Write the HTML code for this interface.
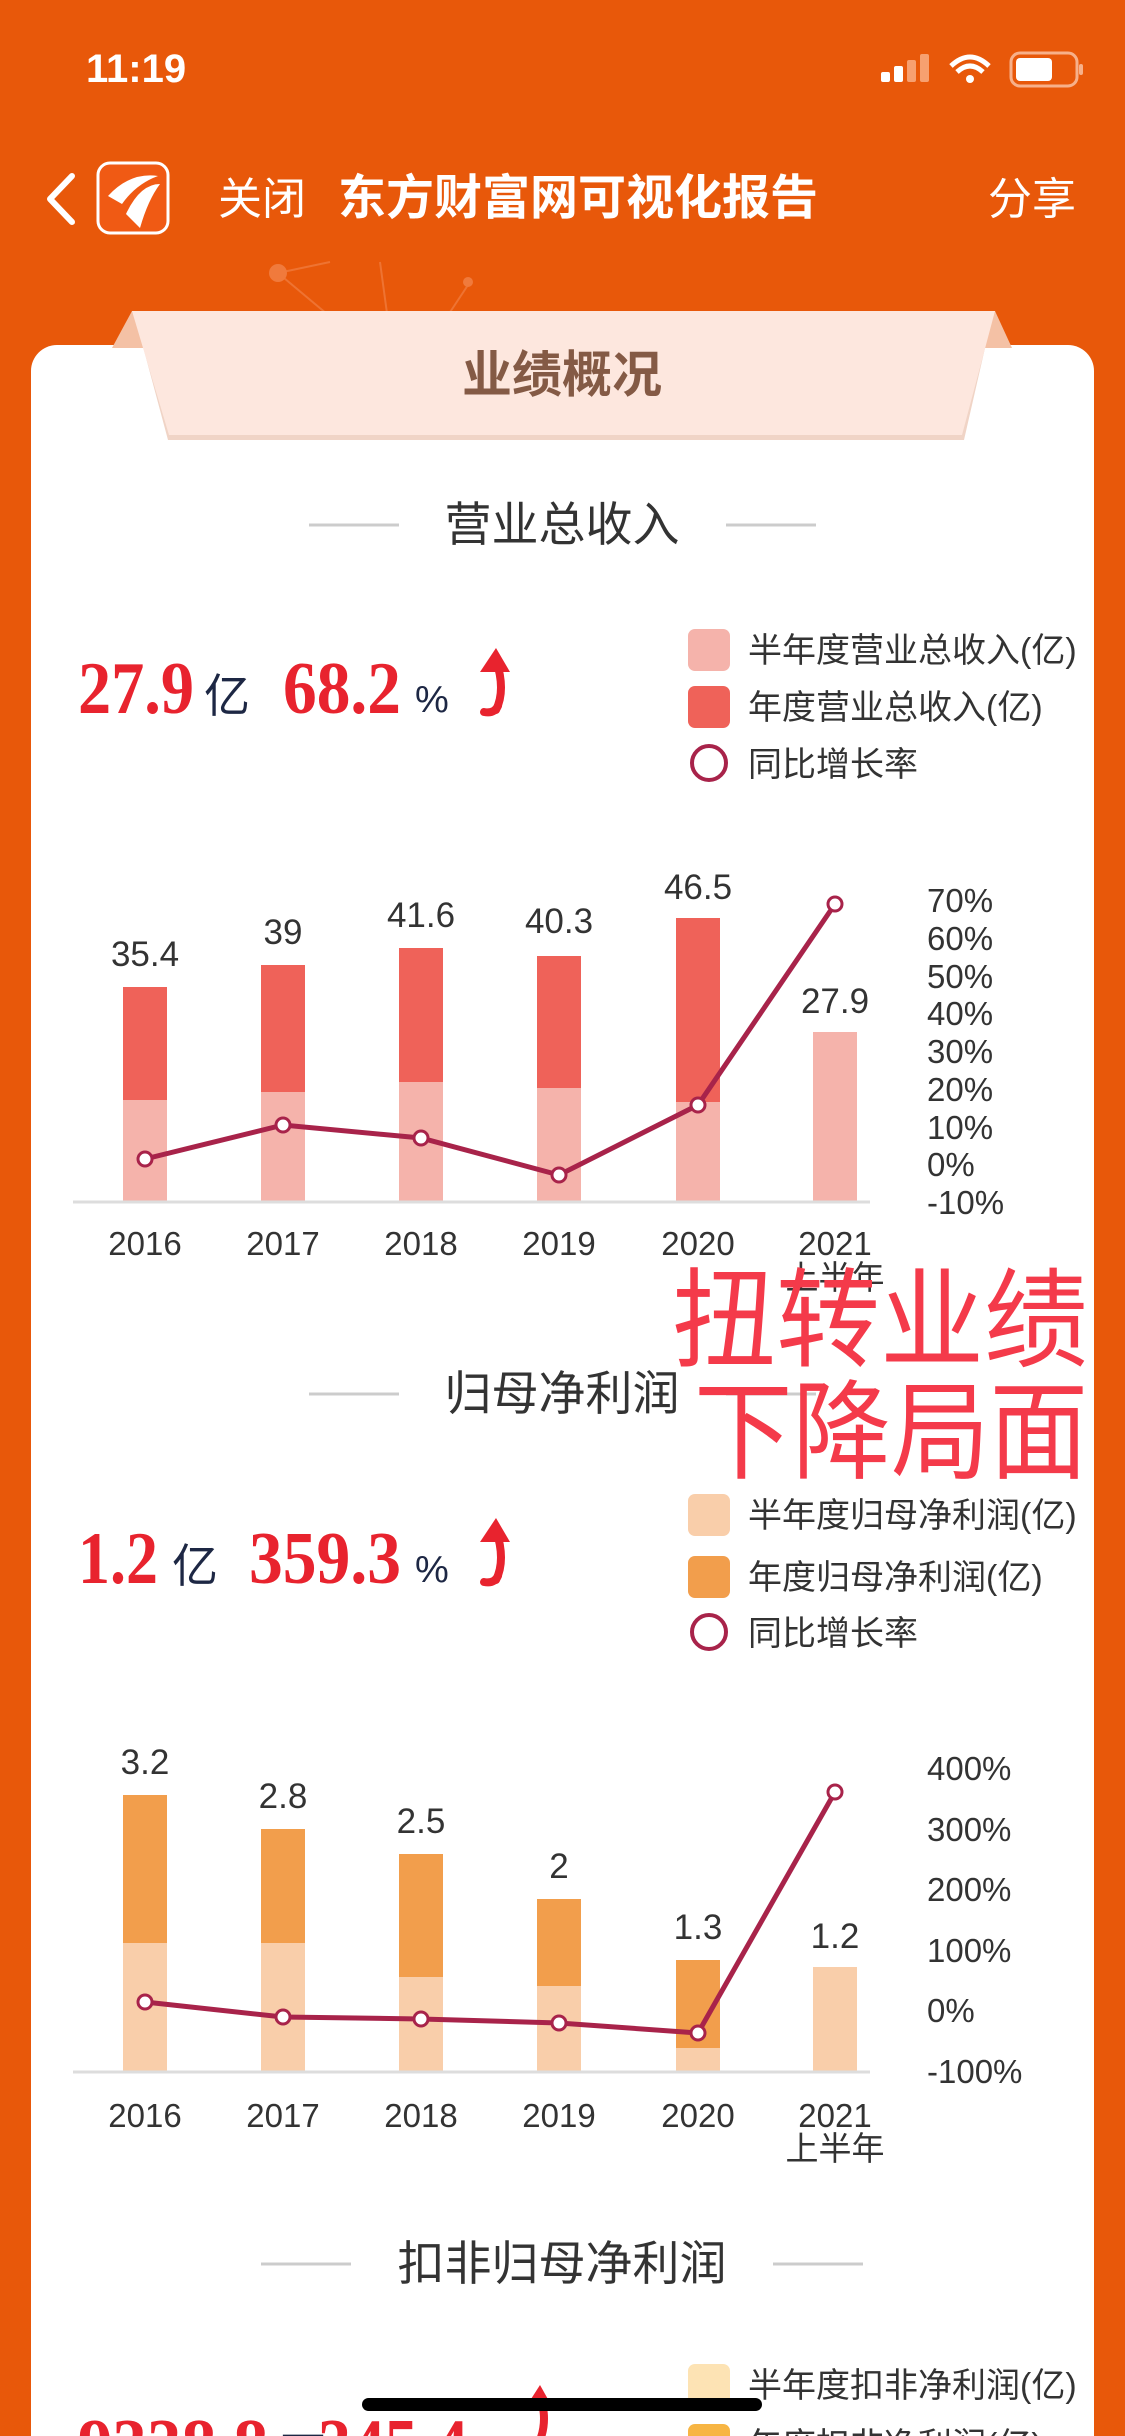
<!DOCTYPE html>
<html><head><meta charset="utf-8">
<style>
html,body{margin:0;padding:0;background:#e8580a;}
svg{display:block}
text{font-family:"Liberation Sans","Noto Sans CJK SC",sans-serif;}
.num{font-family:"Liberation Serif","Noto Serif CJK SC",serif;font-weight:bold;fill:#e8232e;}
.unit{fill:#1d2744;}
.lg{font-size:34px;fill:#333;}
.ax{font-size:33px;fill:#333;}
.vl{font-size:35px;fill:#333;}
</style></head><body>
<svg width="1125" height="2436" viewBox="0 0 1125 2436" xmlns="http://www.w3.org/2000/svg">
<rect width="1125" height="2436" fill="#e8580a"/>
<!-- status bar -->
<text x="86" y="82" font-size="40" font-weight="bold" fill="#fff">11:19</text>
<rect x="881" y="72" width="9" height="10" rx="2" fill="#fff"/>
<rect x="894" y="66" width="9" height="16" rx="2" fill="#fff"/>
<rect x="907" y="60" width="9" height="22" rx="2" fill="#f7a070"/>
<rect x="920" y="54" width="9" height="28" rx="2" fill="#f7a070"/>
<path d="M951 66 Q970 48 989 66" stroke="#fff" stroke-width="5" fill="none"/>
<path d="M957 72 Q970 60 983 72" stroke="#fff" stroke-width="5" fill="none"/>
<circle cx="970" cy="79" r="4" fill="#fff"/>
<rect x="1011" y="53" width="66" height="33" rx="9" fill="none" stroke="#f7b08a" stroke-width="3"/>
<rect x="1016" y="58" width="36" height="23" rx="4" fill="#fff"/>
<rect x="1079" y="64" width="4" height="11" rx="2" fill="#f7b08a"/>
<!-- nav -->
<path d="M72 176 L50 199 L72 222" stroke="#fff" stroke-width="6" fill="none" stroke-linecap="round" stroke-linejoin="round"/>
<rect x="98" y="163" width="70" height="70" rx="12" fill="#f05a14" stroke="#fff" stroke-width="3"/>
<path d="M108 196 Q130 172 158 176 Q136 184 122 204 Z" fill="#fff"/>
<path d="M126 214 Q140 184 160 184 Q148 200 140 228 Z" fill="#fff"/>
<text x="218" y="214" font-size="44" fill="#fff">关闭</text>
<text x="338" y="214" font-size="48" font-weight="bold" fill="#fff">东方财富网可视化报告</text>
<text x="988" y="214" font-size="44" fill="#fff">分享</text>
<g stroke="#f07a3c" stroke-width="2" fill="none" opacity="0.8">
<path d="M278 273 L370 350"/><path d="M278 273 L330 262"/><path d="M380 262 L392 350"/><path d="M468 285 L425 350"/>
</g>
<circle cx="278" cy="273" r="9" fill="#f07a3c"/>
<circle cx="468" cy="282" r="5" fill="#f07a3c"/>
<!-- card -->
<rect x="31" y="345" width="1063" height="2200" rx="26" fill="#fff"/>
<polygon points="132,311 155,311 155,348 112,348" fill="#f4c1a5"/>
<polygon points="995,311 970,311 970,348 1012,348" fill="#f4c1a5"/>
<polygon points="134,313 993,313 964,440 168,440" fill="#f0d4c6"/>
<polygon points="132,311 995,311 962,435 169,435" fill="#fde7de"/>
<text x="562" y="392" font-size="50" font-weight="bold" fill="#845a45" text-anchor="middle">业绩概况</text>

<!-- section 1 -->
<line x1="309" y1="525" x2="399" y2="525" stroke="#ccc" stroke-width="3"/>
<line x1="726" y1="525" x2="816" y2="525" stroke="#ccc" stroke-width="3"/>
<text x="562" y="541" font-size="47" fill="#333" text-anchor="middle">营业总收入</text>

<text class="num" x="78" y="713" font-size="74" textLength="116" lengthAdjust="spacingAndGlyphs">27.9</text>
<text class="unit" x="204" y="712" font-size="46">亿</text>
<text class="num" x="283" y="713" font-size="74" textLength="118" lengthAdjust="spacingAndGlyphs">68.2</text>
<text class="unit" x="415" y="712" font-size="38" font-family="Liberation Serif,serif">%</text>
<path d="M496 710 Q506 690 496 660" stroke="#e8232e" stroke-width="8" fill="none" stroke-linecap="round"/>
<polygon points="480,672 496,648 510,672" fill="#e8232e"/>
<path d="M484 712 Q494 714 498 706" stroke="#e8232e" stroke-width="8" fill="none" stroke-linecap="round"/>

<rect x="688" y="629" width="42" height="42" rx="7" fill="#f5b3ab"/>
<text class="lg" x="748" y="662">半年度营业总收入(亿)</text>
<rect x="688" y="686" width="42" height="42" rx="7" fill="#ef6259"/>
<text class="lg" x="748" y="719">年度营业总收入(亿)</text>
<circle cx="709" cy="763" r="17" fill="#fff" stroke="#a8234a" stroke-width="4"/>
<text class="lg" x="748" y="776">同比增长率</text>

<!-- chart 1 -->
<g>
<rect x="123" y="987" width="44" height="214" fill="#ef6259"/><rect x="123" y="1100" width="44" height="101" fill="#f5b3ab"/>
<rect x="261" y="965" width="44" height="236" fill="#ef6259"/><rect x="261" y="1092" width="44" height="109" fill="#f5b3ab"/>
<rect x="399" y="948" width="44" height="253" fill="#ef6259"/><rect x="399" y="1082" width="44" height="119" fill="#f5b3ab"/>
<rect x="537" y="956" width="44" height="245" fill="#ef6259"/><rect x="537" y="1088" width="44" height="113" fill="#f5b3ab"/>
<rect x="676" y="918" width="44" height="283" fill="#ef6259"/><rect x="676" y="1102" width="44" height="99" fill="#f5b3ab"/>
<rect x="813" y="1032" width="44" height="169" fill="#f5b3ab"/>
</g>
<line x1="73" y1="1202" x2="870" y2="1202" stroke="#ddd" stroke-width="3"/>
<g text-anchor="middle">
<text class="vl" x="145" y="966">35.4</text><text class="vl" x="283" y="944">39</text>
<text class="vl" x="421" y="927">41.6</text><text class="vl" x="559" y="933">40.3</text>
<text class="vl" x="698" y="899">46.5</text><text class="vl" x="835" y="1013">27.9</text>
</g>
<polyline points="145,1159 283,1125 421,1138 559,1175 698,1105 835,904" fill="none" stroke="#a8234a" stroke-width="5"/>
<g fill="#fff" stroke="#a8234a" stroke-width="3">
<circle cx="145" cy="1159" r="7"/><circle cx="283" cy="1125" r="7"/><circle cx="421" cy="1138" r="7"/>
<circle cx="559" cy="1175" r="7"/><circle cx="698" cy="1105" r="7"/><circle cx="835" cy="904" r="7"/>
</g>
<g>
<text class="ax" x="927" y="912">70%</text><text class="ax" x="927" y="950">60%</text><text class="ax" x="927" y="988">50%</text>
<text class="ax" x="927" y="1025">40%</text><text class="ax" x="927" y="1063">30%</text><text class="ax" x="927" y="1101">20%</text>
<text class="ax" x="927" y="1139">10%</text><text class="ax" x="927" y="1176">0%</text><text class="ax" x="927" y="1214">-10%</text>
</g>
<g text-anchor="middle">
<text class="ax" x="145" y="1255">2016</text><text class="ax" x="283" y="1255">2017</text><text class="ax" x="421" y="1255">2018</text>
<text class="ax" x="559" y="1255">2019</text><text class="ax" x="698" y="1255">2020</text><text class="ax" x="835" y="1255">2021</text>
<text class="ax" x="835" y="1289">上半年</text>
</g>

<!-- section 2 -->
<line x1="309" y1="1394" x2="399" y2="1394" stroke="#ccc" stroke-width="3"/>
<line x1="726" y1="1394" x2="816" y2="1394" stroke="#ccc" stroke-width="3"/>
<text x="562" y="1410" font-size="47" fill="#333" text-anchor="middle">归母净利润</text>

<text x="672" y="1358" font-size="108" fill="#f43a4a" textLength="416" lengthAdjust="spacingAndGlyphs">扭转业绩</text>
<text x="694" y="1470" font-size="108" fill="#f43a4a" textLength="394" lengthAdjust="spacingAndGlyphs">下降局面</text>

<text class="num" x="78" y="1583" font-size="74" textLength="80" lengthAdjust="spacingAndGlyphs">1.2</text>
<text class="unit" x="172" y="1582" font-size="46">亿</text>
<text class="num" x="249" y="1583" font-size="74" textLength="152" lengthAdjust="spacingAndGlyphs">359.3</text>
<text class="unit" x="415" y="1582" font-size="38" font-family="Liberation Serif,serif">%</text>
<path d="M496 1580 Q506 1560 496 1530" stroke="#e8232e" stroke-width="8" fill="none" stroke-linecap="round"/>
<polygon points="480,1542 496,1518 510,1542" fill="#e8232e"/>
<path d="M484 1582 Q494 1584 498 1576" stroke="#e8232e" stroke-width="8" fill="none" stroke-linecap="round"/>

<rect x="688" y="1494" width="42" height="42" rx="7" fill="#f9ceaa"/>
<text class="lg" x="748" y="1527">半年度归母净利润(亿)</text>
<rect x="688" y="1556" width="42" height="42" rx="7" fill="#f29e4c"/>
<text class="lg" x="748" y="1589">年度归母净利润(亿)</text>
<circle cx="709" cy="1632" r="17" fill="#fff" stroke="#a8234a" stroke-width="4"/>
<text class="lg" x="748" y="1645">同比增长率</text>

<!-- chart 2 -->
<g>
<rect x="123" y="1795" width="44" height="276" fill="#f29e4c"/><rect x="123" y="1943" width="44" height="128" fill="#f9ceaa"/>
<rect x="261" y="1829" width="44" height="242" fill="#f29e4c"/><rect x="261" y="1943" width="44" height="128" fill="#f9ceaa"/>
<rect x="399" y="1854" width="44" height="217" fill="#f29e4c"/><rect x="399" y="1977" width="44" height="94" fill="#f9ceaa"/>
<rect x="537" y="1899" width="44" height="172" fill="#f29e4c"/><rect x="537" y="1986" width="44" height="85" fill="#f9ceaa"/>
<rect x="676" y="1960" width="44" height="111" fill="#f29e4c"/><rect x="676" y="2048" width="44" height="23" fill="#f9ceaa"/>
<rect x="813" y="1967" width="44" height="104" fill="#f9ceaa"/>
</g>
<line x1="73" y1="2072" x2="870" y2="2072" stroke="#ddd" stroke-width="3"/>
<g text-anchor="middle">
<text class="vl" x="145" y="1774">3.2</text><text class="vl" x="283" y="1808">2.8</text>
<text class="vl" x="421" y="1833">2.5</text><text class="vl" x="559" y="1878">2</text>
<text class="vl" x="698" y="1939">1.3</text><text class="vl" x="835" y="1948">1.2</text>
</g>
<polyline points="145,2002 283,2017 421,2019 559,2023 698,2033 835,1792" fill="none" stroke="#a8234a" stroke-width="5"/>
<g fill="#fff" stroke="#a8234a" stroke-width="3">
<circle cx="145" cy="2002" r="7"/><circle cx="283" cy="2017" r="7"/><circle cx="421" cy="2019" r="7"/>
<circle cx="559" cy="2023" r="7"/><circle cx="698" cy="2033" r="7"/><circle cx="835" cy="1792" r="7"/>
</g>
<g>
<text class="ax" x="927" y="1780">400%</text><text class="ax" x="927" y="1841">300%</text><text class="ax" x="927" y="1901">200%</text>
<text class="ax" x="927" y="1962">100%</text><text class="ax" x="927" y="2022">0%</text><text class="ax" x="927" y="2083">-100%</text>
</g>
<g text-anchor="middle">
<text class="ax" x="145" y="2127">2016</text><text class="ax" x="283" y="2127">2017</text><text class="ax" x="421" y="2127">2018</text>
<text class="ax" x="559" y="2127">2019</text><text class="ax" x="698" y="2127">2020</text><text class="ax" x="835" y="2127">2021</text>
<text class="ax" x="835" y="2160">上半年</text>
</g>

<!-- section 3 -->
<line x1="261" y1="2264" x2="351" y2="2264" stroke="#ccc" stroke-width="3"/>
<line x1="773" y1="2264" x2="863" y2="2264" stroke="#ccc" stroke-width="3"/>
<text x="562" y="2280" font-size="47" fill="#333" text-anchor="middle">扣非归母净利润</text>

<rect x="688" y="2364" width="42" height="42" rx="7" fill="#fde3b4"/>
<text class="lg" x="748" y="2397">半年度扣非净利润(亿)</text>
<rect x="688" y="2424" width="42" height="42" rx="7" fill="#f7b543"/>
<text class="lg" x="748" y="2457">年度扣非净利润(亿)</text>

<text class="num" x="78" y="2470" font-size="74" textLength="190" lengthAdjust="spacingAndGlyphs">9338.8</text>
<text class="unit" x="280" y="2470" font-size="46">万</text>
<text class="num" x="318" y="2470" font-size="74" textLength="150" lengthAdjust="spacingAndGlyphs">345.4</text>
<text class="unit" x="472" y="2470" font-size="38" font-family="Liberation Serif,serif">%</text>
<path d="M540 2440 Q548 2420 540 2395" stroke="#e8232e" stroke-width="8" fill="none"/>
<polygon points="524,2410 540,2385 554,2410" fill="#e8232e"/>

<rect x="362" y="2398" width="400" height="13" rx="6.5" fill="#000"/>
</svg>
</body></html>
